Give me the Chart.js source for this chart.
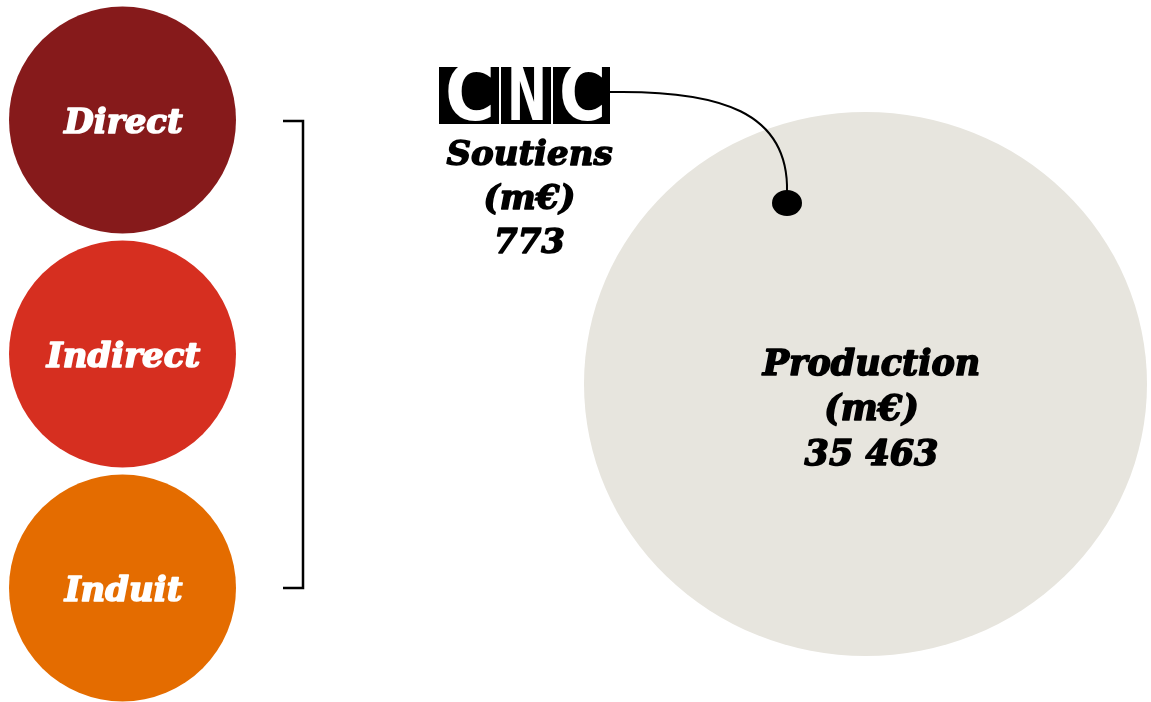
<!DOCTYPE html>
<html>
<head>
<meta charset="utf-8">
<script src="https://cdn.jsdelivr.net/npm/chart.js@4"></script>
<style>
  html, body { margin: 0; padding: 0; background: #ffffff; }
  #wrap { width: 1151px; height: 702px; position: relative; }
</style>
</head>
<body>
<div id="wrap"><canvas id="c"></canvas></div>
<script>
// ---- Data ----
const categories = ['Direct', 'Indirect', 'Induit'];
const categoryColors = ['#861a1b', '#d62f20', '#e46c00'];
const productionLines = ['Production', '(m€)'];
const productionValue = 35463;
const soutiensLines = ['Soutiens', '(m€)'];
const soutiensValue = 773;
const logoText = ['C', 'N', 'C'];

// ---- Layout (diagram positions in canvas units) ----
const circleX = 122.5;
const circleY = [120, 354, 588];
const circleR = 113.5;
const prodCenter = { x: 865.5, y: 384 }, prodRX = 281.5, prodRY = 272;
const dotCenter = { x: 787, y: 203 }, dotRX = 15, dotRY = 13;
const logoBoxes = [[439, 499], [501, 551], [553, 610]];
const logoY = [67, 124];
const bracket = { xIn: 283, xOut: 303, yTop: 121, yBot: 588 };

function fmt(n) {
  return String(n).replace(/\B(?=(\d{3})+(?!\d))/g, ' ');
}
function ellipseImage(rx, ry, color) {
  const cv = document.createElement('canvas');
  cv.width = Math.round(rx * 2); cv.height = Math.round(ry * 2);
  const g = cv.getContext('2d');
  g.fillStyle = color;
  g.beginPath();
  g.ellipse(cv.width / 2, cv.height / 2, rx, ry, 0, 0, Math.PI * 2);
  g.fill();
  return cv;
}

const FONT = '"DejaVu Serif", serif';

function heavyText(ctx, t, x, y, color, sw) {
  ctx.fillStyle = color;
  ctx.strokeStyle = color;
  ctx.lineWidth = sw;
  ctx.lineJoin = 'round';
  ctx.strokeText(t, x, y);
  ctx.fillText(t, x, y);
}

const overlay = {
  id: 'overlay',
  afterDatasetsDraw(chart) {
    const ctx = chart.ctx;
    const xs = chart.scales.x, ys = chart.scales.y;
    ctx.save();
    ctx.textAlign = 'center';
    ctx.textBaseline = 'middle';

    // category labels
    const m0 = chart.getDatasetMeta(0);
    ctx.font = 'italic bold 34px ' + FONT;
    m0.data.forEach((pt, i) => heavyText(ctx, categories[i], pt.x + 1, pt.y + 4, '#ffffff', 1.6));

    // production label
    const mp = chart.getDatasetMeta(1).data[0];
    ctx.font = 'italic bold 35px ' + FONT;
    const prodText = productionLines.concat([fmt(productionValue)]);
    prodText.forEach((t, i) => heavyText(ctx, t, mp.x + 6, mp.y - 18 + i * 45, '#000000', 1.6));

    // logo
    const ly0 = ys.getPixelForValue(logoY[0]), ly1 = ys.getPixelForValue(logoY[1]);
    ctx.font = 'bold 78px "DejaVu Sans", sans-serif';
    logoBoxes.forEach((b, i) => {
      const bx0 = xs.getPixelForValue(b[0]), bx1 = xs.getPixelForValue(b[1]);
      ctx.fillStyle = '#000000';
      ctx.fillRect(bx0, ly0, bx1 - bx0, ly1 - ly0);
      ctx.save();
      ctx.beginPath(); ctx.rect(bx0, ly0, bx1 - bx0, ly1 - ly0); ctx.clip();
      ctx.fillStyle = '#ffffff';
      const w = ctx.measureText(logoText[i]).width;
      const target = (bx1 - bx0) - 10;
      ctx.translate((bx0 + bx1) / 2 + 1, (ly0 + ly1) / 2 + 4);
      ctx.scale(target / w, 1);
      ctx.fillText(logoText[i], 0, 0);
      ctx.restore();
    });
    const lx0 = xs.getPixelForValue(logoBoxes[0][0]);
    const lx1 = xs.getPixelForValue(logoBoxes[2][1]);

    // soutiens label
    ctx.font = 'italic bold 34px ' + FONT;
    const sx = (lx0 + lx1) / 2 + 5;
    const sText = soutiensLines.concat([fmt(soutiensValue)]);
    sText.forEach((t, i) => heavyText(ctx, t, sx, ly1 + 32 + i * 44, '#000000', 1.5));

    // connector curve
    const md = chart.getDatasetMeta(2).data[0];
    const topY = md.y - dotRY + 2;
    ctx.strokeStyle = '#000000';
    ctx.lineWidth = 2;
    ctx.beginPath();
    const sy = ys.getPixelForValue(92);
    ctx.moveTo(lx1, sy);
    ctx.bezierCurveTo(lx1 + 110, sy - 2, md.x + 2, sy + 20, md.x, topY);
    ctx.stroke();

    ctx.restore();
  }
};

const data = {
  datasets: [
    {
      label: 'Catégories',
      data: categories.map((c, i) => ({ x: circleX, y: circleY[i] })),
      backgroundColor: categoryColors,
      borderWidth: 0,
      pointRadius: circleR,
      pointHoverRadius: circleR,
      pointStyle: 'circle',
      clip: false,
      order: 1
    },
    {
      label: 'Production',
      data: [{ x: prodCenter.x, y: prodCenter.y, v: productionValue }],
      pointStyle: ellipseImage(prodRX, prodRY, '#e7e5de'),
      pointRadius: prodRX,
      clip: false,
      order: 5
    },
    {
      label: 'Soutiens',
      data: [{ x: dotCenter.x, y: dotCenter.y, v: soutiensValue }],
      pointStyle: ellipseImage(dotRX, dotRY, '#000000'),
      pointRadius: dotRX,
      clip: false,
      order: 0
    },
    {
      label: 'bracket',
      type: 'line',
      data: [
        { x: bracket.xIn, y: bracket.yTop },
        { x: bracket.xOut, y: bracket.yTop },
        { x: bracket.xOut, y: bracket.yBot },
        { x: bracket.xIn, y: bracket.yBot }
      ],
      borderColor: '#000000',
      borderWidth: 2.5,
      pointRadius: 0,
      fill: false,
      tension: 0,
      clip: false,
      order: 0
    }
  ]
};

new Chart(document.getElementById('c'), {
  type: 'scatter',
  data,
  options: {
    responsive: true,
    maintainAspectRatio: false,
    animation: false,
    layout: { padding: 0, autoPadding: false },
    plugins: { legend: { display: false }, tooltip: { enabled: false } },
    events: [],
    scales: {
      x: { type: 'linear', min: 0, max: 1151, display: false },
      y: { type: 'linear', min: 0, max: 702, reverse: true, display: false }
    }
  },
  plugins: [overlay]
});
</script>
</body>
</html>
